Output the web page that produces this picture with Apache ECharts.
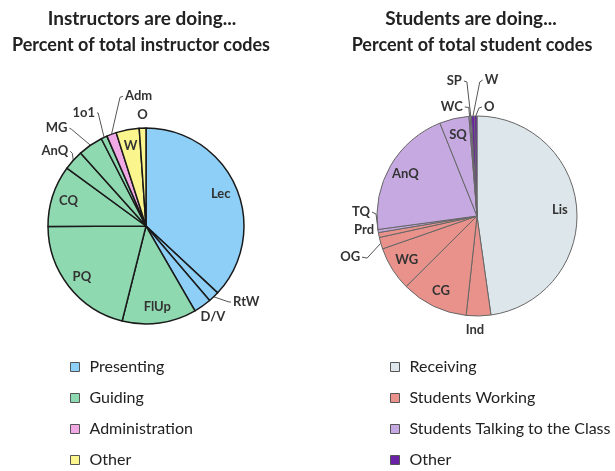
<!DOCTYPE html>
<html>
<head>
<meta charset="utf-8">
<script src="https://cdn.jsdelivr.net/npm/echarts@6/dist/echarts.min.js"></script>
<style>
html,body{margin:0;padding:0;background:#fff;}
#c{width:615px;height:471px;}
</style>
</head>
<body>
<div id="c"></div>
<script>
// ---- data ----
const instrCategories = ['Presenting', 'Guiding', 'Administration', 'Other'];
const instrNames  = ['Lec', 'RtW', 'D/V', 'FlUp', 'PQ', 'CQ', 'AnQ', 'MG', '1o1', 'Adm', 'W', 'O'];
const instrValues = [36.8, 1.8, 2.9, 12.2, 20.9, 10.1, 3.3, 4.1, 1.0, 1.6, 3.8, 1.1];
const instrGroup  = [0, 0, 0, 1, 1, 1, 1, 1, 1, 2, 3, 3];

const studCategories = ['Receiving', 'Students Working', 'Students Talking to the Class', 'Other'];
const studNames  = ['Lis', 'Ind', 'CG', 'WG', 'OG', 'Prd', 'TQ', 'AnQ', 'SQ', 'WC', 'SP', 'W', 'O'];
const studValues = [48.2, 4.0, 10.9, 7.2, 1.9, 0.8, 0.5, 21.3, 4.8, 0.2, 0.2, 0.5, 0.4];
const studGroup  = [0, 1, 1, 1, 1, 1, 2, 2, 2, 2, 2, 3, 3];

const titles = ['Instructors are doing...', 'Students are doing...'];
const subtitles = ['Percent of total instructor codes', 'Percent of total student codes'];

// ---- styles ----
const instrColors = ['#8DCFF6', '#8FD9B1', '#F1A9E6', '#FAF68D'];
const studColors  = ['#DDE6EA', '#E8928B', '#C6A9E1', '#6A22A6'];
const FONT = 'Lato';
const labelFont = {fontFamily: FONT, fontWeight: 'bold', fontSize: 13, color: '#333'};

const instrInside = {Lec: 1, FlUp: 1, PQ: 1, CQ: 1, W: 1};
const studInside  = {Lis: 1, CG: 1, WG: 1, AnQ: 1, SQ: 1};

// label placement relative to each slice's outer-edge anchor (lbl = text anchor offset, elb = leader elbow offset)
const instrLabelPlace = {
  O:     {lbl: [0, -13],       align: 'center'},
  Adm:   {lbl: [13.5, -38],    elb: [8.5, -37],   align: 'left'},
  '1o1': {lbl: [-9, -24.5],    elb: [-6, -24.5],  align: 'right'},
  MG:    {lbl: [-23, -17],     elb: [-19, -16],   align: 'right'},
  AnQ:   {lbl: [-5, -9],       elb: [-1, -7],     align: 'right'},
  RtW:   {lbl: [19.3, 5.2],    elb: [15.3, 5.2],  align: 'left'},
  'D/V': {lbl: [10.4, 11],     align: 'center'}
};
const studLabelPlace = {
  Ind: {lbl: [-3.6, 14],       align: 'center'},
  OG:  {lbl: [-20.7, 13.9],    elb: [-13.7, 14.9], align: 'right'},
  Prd: {lbl: [-4.8, -4.9],     align: 'right'},
  TQ:  {lbl: [-8.1, -19],      elb: [-2.1, -17],   align: 'right'},
  WC:  {lbl: [-6.7, -9.3],     elb: [-0.7, -8.8],  align: 'right'},
  SP:  {lbl: [-8.9, -35.2],    elb: [-3.9, -34.2], align: 'right'},
  W:   {lbl: [11.8, -36.1],    elb: [6.8, -34.1],  align: 'left'},
  O:   {lbl: [8.2, -9],        elb: [3.2, -8],     align: 'left'}
};

function slices(names, values, group, colors) {
  return names.map((n, i) => ({
    name: n, value: values[i],
    itemStyle: {color: colors[group[i]]}
  }));
}
function labelData(names, values, inside) {
  return names.map((n, i) => {
    const isIn = !!inside[n];
    return {
      name: n, value: values[i],
      label: {show: true, position: isIn ? 'inside' : 'outside'},
      labelLine: {show: !isIn, length: 8, length2: 6}
    };
  });
}
function makeLabelLayout(names, place) {
  return function (p) {
    const cfg = place[names[p.dataIndex]];
    if (!cfg || !p.labelLinePoints) return;
    const a = p.labelLinePoints[0];
    const lx = a[0] + cfg.lbl[0], ly = a[1] + cfg.lbl[1];
    let pts;
    if (cfg.elb) {
      const ex = a[0] + cfg.elb[0], ey = a[1] + cfg.elb[1];
      const endX = cfg.align === 'right' ? lx + 2 : lx - 2;
      pts = [[a[0], a[1]], [ex, ey], [endX, ly]];
    } else {
      pts = [[a[0], a[1]], [a[0], a[1]]];
    }
    return {x: lx, y: ly, align: cfg.align, verticalAlign: 'middle', labelLinePoints: pts};
  };
}
function legendData(cats, colors, suffix) {
  return cats.map((c, i) => ({name: c + suffix, value: 1, itemStyle: {color: colors[i]}}));
}

const chart = echarts.init(document.getElementById('c'), null, {renderer: 'canvas'});
const titleText = {fontFamily: FONT, fontWeight: 'bold', fontSize: 19, color: '#222'};
const subText = {fontFamily: FONT, fontWeight: 'bold', fontSize: 18, color: '#222'};
const legendText = {fontFamily: FONT, fontSize: 16, color: '#222', lineHeight: 18, padding: [0, 0, 0, 5]};

chart.setOption({
  animation: false,
  title: [
    {text: titles[0], left: 142, top: 9, textAlign: 'center', padding: 0, textStyle: titleText},
    {text: subtitles[0], left: 141, top: 36, textAlign: 'center', padding: 0, textStyle: subText},
    {text: titles[1], left: 471, top: 9, textAlign: 'center', padding: 0, textStyle: titleText},
    {text: subtitles[1], left: 472, top: 36, textAlign: 'center', padding: 0, textStyle: subText}
  ],
  legend: [
    {data: instrCategories, orient: 'vertical', left: 70, top: 358, icon: 'rect', padding: 0,
     itemWidth: 9, itemHeight: 9, itemGap: 13, selectedMode: false,
     itemStyle: {borderColor: '#555', borderWidth: 1},
     textStyle: legendText},
    {data: studCategories.map(c => c + ' '), orient: 'vertical', left: 390, top: 358, icon: 'rect', padding: 0,
     itemWidth: 9, itemHeight: 9, itemGap: 13, selectedMode: false,
     formatter: n => n.trim(),
     itemStyle: {borderColor: '#555', borderWidth: 1},
     textStyle: legendText}
  ],
  series: [
    {type: 'pie', center: [146, 226], radius: 98, clockwise: true, startAngle: 90,
     silent: true, label: {show: false}, labelLine: {show: false},
     itemStyle: {borderColor: '#1a1a1a', borderWidth: 1.5},
     data: slices(instrNames, instrValues, instrGroup, instrColors)},
    {type: 'pie', center: [146, 226], radius: [59, 98], clockwise: true, startAngle: 90,
     silent: true, avoidLabelOverlap: false,
     itemStyle: {color: 'rgba(0,0,0,0)', borderWidth: 0},
     label: labelFont,
     labelLine: {lineStyle: {color: '#555', width: 1}},
     labelLayout: makeLabelLayout(instrNames, instrLabelPlace),
     data: labelData(instrNames, instrValues, instrInside)},
    {type: 'pie', center: [477, 216], radius: 100, clockwise: true, startAngle: 90,
     silent: true, label: {show: false}, labelLine: {show: false},
     itemStyle: {borderColor: '#666', borderWidth: 1},
     data: slices(studNames, studValues, studGroup, studColors)},
    {type: 'pie', center: [477, 216], radius: [60, 100], clockwise: true, startAngle: 90,
     silent: true, avoidLabelOverlap: false,
     itemStyle: {color: 'rgba(0,0,0,0)', borderWidth: 0},
     label: labelFont,
     labelLine: {lineStyle: {color: '#555', width: 1}},
     labelLayout: makeLabelLayout(studNames, studLabelPlace),
     data: labelData(studNames, studValues, studInside)},
    // legend carriers (not drawn)
    {type: 'pie', radius: [0, 0], center: [-50, -50], silent: true,
     label: {show: false}, labelLine: {show: false},
     data: legendData(instrCategories, instrColors, '')},
    {type: 'pie', radius: [0, 0], center: [-50, -50], silent: true,
     label: {show: false}, labelLine: {show: false},
     data: legendData(studCategories, studColors, ' ')}
  ]
});
</script>
</body>
</html>
